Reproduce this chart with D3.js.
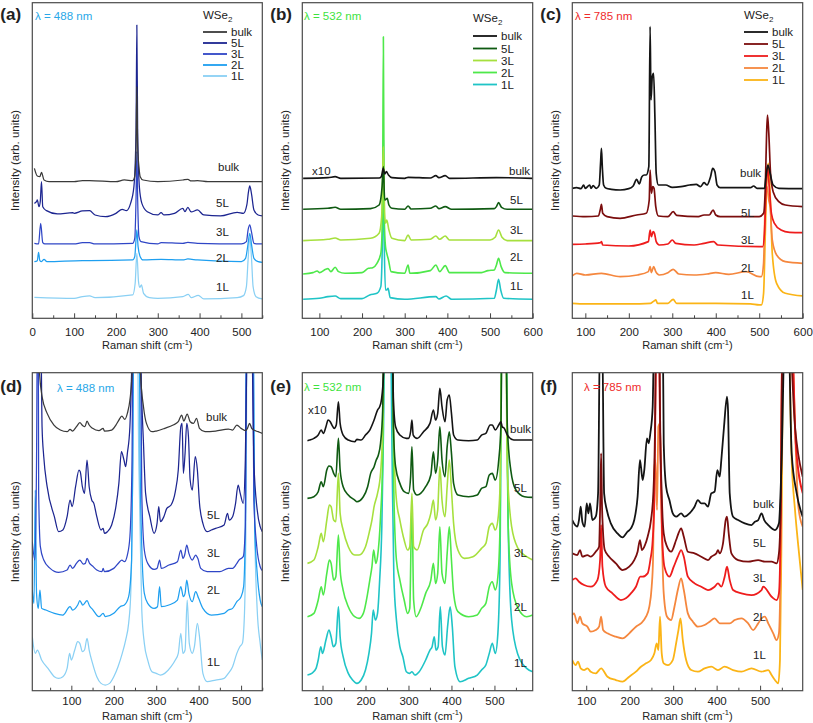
<!DOCTYPE html>
<html><head><meta charset="utf-8">
<script src="https://cdn.jsdelivr.net/npm/d3@7"></script>
<style>body{margin:0;background:#fff}svg{display:block}text{font-family:Arial,"Liberation Sans",sans-serif;fill:#222}</style>
</head><body><svg id="chart" width="813" height="723"></svg>
<script>
// ---------- data: [Raman shift (cm-1), intensity (arb. units, offset-stacked)] ----------
const layers = ["bulk", "5L", "3L", "2L", "1L"];

// 488 nm, full view
const a_bulk = [[5,495],[12,472],[18,470],[22,483],[28,460],[40,455],[100,455],[120,458],[137,458],[200,455],[220,460],[240,458],[245,470],[248,550],[250,740],[252,560],[255,500],[258,470],[265,460],[300,455],[360,460],[372,462],[380,457],[395,458],[420,455],[550,455]];
const a_5L = [[5,390],[10,395],[12,400],[16,380],[19,395],[22,455],[25,380],[34,368],[60,358],[97,362],[100,360],[120,367],[137,368],[150,355],[175,350],[200,360],[215,372],[225,368],[235,390],[243,440],[248,600],[250,925],[252,600],[256,440],[262,390],[275,365],[300,355],[308,362],[315,355],[340,360],[360,375],[365,365],[372,378],[380,364],[395,370],[410,355],[450,352],[490,363],[505,360],[513,385],[517,425],[520,442],[524,420],[530,370],[540,355],[550,352]];
const a_3L = [[5,270],[15,268],[20,330],[25,272],[30,268],[100,268],[120,272],[137,272],[150,268],[240,270],[245,285],[248,400],[250,545],[252,400],[255,290],[260,275],[300,268],[308,272],[360,270],[372,273],[395,270],[500,268],[512,275],[516,310],[520,325],[524,305],[530,270],[540,268],[550,268]];
const a_2L = [[5,215],[12,218],[15,243],[18,218],[22,215],[28,222],[35,215],[120,218],[137,218],[240,220],[245,230],[248,280],[250,310],[253,260],[258,230],[265,220],[308,222],[360,220],[372,223],[395,220],[500,215],[510,225],[515,260],[520,300],[525,260],[530,225],[540,215],[550,213]];
const a_1L = [[5,108],[100,105],[120,110],[137,112],[150,107],[240,115],[246,150],[250,240],[254,155],[257,138],[261,145],[266,120],[280,107],[300,105],[360,110],[373,117],[380,107],[397,114],[410,103],[490,107],[505,113],[512,140],[516,220],[520,288],[524,230],[528,140],[535,110],[550,103]];

// 532 nm, full view
const b_bulk = [[62,465],[120,467],[137,470],[150,465],[240,466],[245,470],[250,495],[253,478],[257,485],[262,475],[270,467],[300,465],[308,468],[360,466],[373,473],[380,467],[395,473],[405,465],[515,467],[600,465]];
const b_5L = [[62,372],[120,375],[137,378],[150,372],[220,374],[240,385],[247,440],[250,500],[253,400],[256,402],[259,405],[263,385],[270,375],[300,372],[308,382],[315,373],[360,375],[373,382],[380,374],[395,380],[410,372],[510,374],[515,380],[520,392],[527,378],[540,372],[600,372]];
const b_3L = [[62,278],[120,282],[137,286],[150,280],[220,285],[240,300],[246,350],[250,560],[253,360],[255,330],[258,340],[263,310],[270,285],[300,278],[308,295],[315,280],[360,282],[373,292],[382,282],[395,292],[405,280],[500,280],[512,288],[520,310],[528,288],[540,278],[600,278]];
const b_2L = [[62,178],[85,182],[95,187],[100,182],[115,192],[120,194],[127,185],[137,198],[145,185],[160,180],[200,182],[215,195],[225,197],[235,210],[244,240],[248,350],[250,890],[252,350],[255,260],[258,240],[262,220],[268,185],[300,180],[308,205],[312,180],[360,188],[373,205],[382,185],[395,203],[405,182],[480,182],[495,188],[510,190],[515,205],[520,225],[526,200],[535,182],[600,180]];
const b_1L = [[62,102],[100,105],[120,110],[137,112],[150,104],[200,104],[218,115],[235,120],[244,140],[248,300],[250,580],[252,280],[255,130],[258,130],[261,135],[266,107],[300,102],[373,110],[380,103],[397,112],[410,102],[510,105],[515,130],[520,162],[525,130],[532,105],[600,102]];

// 785 nm, full view
const c_bulk = [[70,435],[80,437],[90,434],[96,445],[100,435],[110,445],[113,435],[118,443],[125,435],[132,445],[135,510],[137,555],[139,500],[142,445],[148,435],[160,432],[180,430],[200,434],[210,442],[218,462],[224,448],[230,470],[236,475],[240,475],[246,500],[249,920],[251,700],[254,770],[257,780],[260,650],[263,480],[268,445],[285,445],[300,438],[320,440],[340,445],[355,447],[365,440],[373,452],[380,445],[388,470],[393,495],[398,485],[403,445],[410,437],[480,437],[487,442],[495,435],[512,435],[516,475],[520,505],[525,480],[532,445],[545,435],[600,434]];
const c_5L = [[70,352],[100,350],[130,352],[135,375],[137,387],[140,360],[150,350],[180,345],[218,355],[240,360],[247,400],[249,490],[252,420],[255,440],[258,435],[262,380],[268,352],[290,350],[302,365],[310,354],[360,350],[373,355],[385,355],[394,370],[400,355],[410,350],[500,350],[510,360],[514,440],[517,600],[519,655],[522,600],[526,480],[532,425],[545,395],[560,385],[600,380]];
const c_3L = [[70,267],[100,268],[135,272],[137,275],[140,265],[200,262],[245,275],[249,310],[252,290],[256,305],[259,300],[263,275],[270,265],[290,268],[300,280],[308,270],[350,265],[373,270],[395,275],[405,265],[500,260],[508,260],[512,300],[516,440],[519,500],[523,440],[528,360],[535,330],[550,310],[570,303],[600,302]];
const c_2L = [[70,172],[80,180],[100,175],[137,180],[180,170],[220,175],[245,185],[249,200],[252,182],[257,200],[262,185],[270,175],[290,182],[302,192],[315,178],[350,175],[380,178],[400,182],[430,177],[470,185],[500,170],[505,170],[510,210],[514,400],[518,440],[522,400],[525,380],[530,280],[540,235],[560,215],[600,210]];
const c_1L = [[70,90],[100,88],[200,88],[250,90],[258,97],[262,100],[266,90],[290,90],[302,102],[310,90],[400,90],[480,88],[500,85],[505,85],[510,120],[514,300],[518,480],[521,510],[525,420],[530,240],[540,150],[560,120],[600,112]];

// 488 nm, magnified
const d_bulk = [[8,1100],[20,1100],[25,960],[31,890],[43,840],[59,805],[74,790],[90,785],[97,792],[103,787],[112,800],[120,812],[127,803],[132,800],[137,817],[142,805],[150,795],[165,788],[175,795],[178,787],[195,790],[205,805],[212,820],[219,832],[226,822],[232,840],[238,880],[243,960],[246,1100],[260,1100],[263,960],[270,860],[277,810],[290,785],[300,787],[320,795],[340,805],[352,815],[360,835],[365,817],[373,838],[380,815],[388,810],[395,825],[402,795],[415,785],[440,787],[470,793],[480,790],[490,805],[500,795],[510,788],[515,795],[520,810],[525,795],[530,790],[540,785],[550,780]];
const d_5L = [[8,1100],[28,1100],[31,800],[35,710],[43,620],[60,530],[70,485],[80,490],[90,530],[97,580],[102,560],[110,620],[118,670],[121,665],[126,620],[131,600],[137,700],[142,620],[148,580],[153,570],[160,530],[170,490],[175,495],[178,480],[185,485],[195,505],[205,560],[212,630],[218,725],[224,700],[228,680],[232,720],[238,800],[242,960],[245,1100],[262,1100],[265,920],[270,750],[275,600],[285,530],[295,480],[302,510],[306,560],[310,515],[318,530],[325,555],[330,560],[335,565],[345,605],[352,670],[358,800],[361,810],[364,660],[368,720],[372,810],[376,770],[380,640],[385,610],[392,710],[397,670],[402,570],[410,510],[420,485],[430,490],[440,495],[460,505],[468,540],[472,520],[480,530],[487,570],[493,625],[498,600],[505,570],[510,700],[513,960],[515,1100],[525,1100],[527,960],[530,700],[538,550],[545,500],[550,485]];
const d_3L = [[8,455],[14,400],[18,700],[20,1100],[22,1100],[23,600],[27,440],[35,400],[50,375],[70,363],[90,370],[97,385],[103,375],[112,390],[120,400],[128,388],[133,390],[137,405],[143,390],[150,382],[160,370],[172,365],[175,375],[178,365],[200,375],[212,392],[219,400],[225,395],[232,415],[238,470],[243,700],[245,1100],[263,1100],[266,600],[272,430],[280,390],[295,372],[302,375],[308,400],[312,375],[330,385],[350,395],[358,430],[363,405],[367,415],[372,445],[377,420],[385,400],[393,415],[398,405],[405,375],[420,365],[450,365],[470,375],[480,375],[490,390],[495,400],[505,410],[510,500],[513,1100],[527,1100],[530,580],[537,440],[545,380],[550,368]];
const d_2L = [[8,310],[12,270],[15,610],[18,300],[22,255],[26,310],[30,255],[40,250],[60,240],[80,235],[97,260],[103,250],[115,265],[120,278],[127,265],[137,278],[143,262],[150,252],[165,230],[175,240],[180,230],[200,240],[215,260],[225,265],[235,290],[242,400],[245,700],[247,1100],[260,1100],[262,700],[266,440],[272,300],[280,270],[295,255],[303,260],[308,320],[312,260],[330,265],[350,280],[358,320],[364,290],[368,300],[372,340],[377,300],[385,275],[393,305],[400,285],[410,255],[430,235],[460,240],[470,250],[480,255],[490,275],[500,290],[506,320],[510,500],[512,1100],[529,1100],[532,500],[538,360],[545,280],[550,260]];
const d_1L = [[8,170],[15,120],[20,130],[30,100],[45,75],[60,50],[70,45],[80,50],[90,75],[96,120],[100,100],[108,130],[115,155],[120,150],[126,125],[131,130],[137,165],[142,130],[150,90],[160,50],[170,30],[180,25],[190,30],[200,50],[210,80],[220,120],[228,160],[235,210],[240,300],[244,600],[246,1100],[256,1100],[258,800],[262,500],[266,250],[272,150],[280,100],[290,65],[300,60],[310,55],[320,60],[335,80],[345,100],[352,120],[358,180],[363,120],[368,130],[373,280],[378,150],[385,120],[390,140],[397,210],[402,170],[410,60],[420,35],[440,40],[460,45],[470,60],[480,80],[490,120],[497,140],[503,150],[508,240],[512,600],[514,1100],[528,1100],[532,500],[538,250],[545,150],[550,100]];

// 532 nm, magnified
const e_bulk = [[65,758],[70,760],[80,765],[90,775],[97,790],[102,780],[108,800],[113,820],[118,815],[122,805],[127,795],[132,805],[137,875],[141,810],[148,775],[160,760],[175,755],[180,762],[190,760],[200,775],[210,790],[220,820],[228,850],[233,860],[237,880],[242,960],[245,1100],[262,1100],[265,880],[270,800],[280,775],[295,765],[300,765],[305,785],[308,820],[311,775],[320,765],[335,785],[350,810],[358,850],[363,820],[368,840],[373,915],[378,860],[385,815],[390,880],[395,895],[400,840],[405,775],[415,760],[440,758],[460,760],[470,775],[480,780],[490,805],[495,805],[502,790],[510,805],[515,815],[518,800],[523,795],[530,775],[545,760],[589,760]];
const e_5L = [[65,585],[80,590],[90,605],[97,635],[102,620],[110,670],[115,682],[120,680],[126,660],[131,650],[137,765],[141,670],[148,620],[160,595],[175,580],[180,575],[195,590],[205,620],[212,660],[220,680],[225,700],[230,715],[235,750],[240,850],[243,1100],[262,1100],[265,800],[270,680],[280,630],[290,605],[300,600],[305,650],[308,740],[312,610],[320,595],[340,620],[352,655],[358,725],[363,660],[368,700],[373,800],[378,700],[385,650],[390,740],[395,785],[400,720],[405,630],[415,595],[440,590],[460,595],[470,615],[480,620],[488,655],[495,660],[502,640],[510,700],[515,800],[518,1100],[526,1100],[530,800],[538,670],[550,610],[570,590],[589,588]];
const e_3L = [[65,390],[80,400],[90,440],[97,480],[102,455],[110,520],[116,565],[120,560],[126,520],[131,515],[137,660],[141,540],[148,490],[160,440],[175,415],[185,415],[200,440],[210,490],[215,520],[220,560],[228,600],[235,660],[240,800],[243,1100],[262,1100],[266,750],[272,580],[280,520],[290,460],[298,430],[303,440],[308,600],[312,440],[320,430],[335,490],[345,510],[352,540],[358,580],[363,520],[368,550],[373,680],[378,580],[385,530],[390,620],[395,700],[400,610],[405,510],[415,430],[430,405],[450,410],[470,435],[480,450],[488,500],[495,510],[502,490],[508,520],[513,620],[518,1100],[526,1100],[530,670],[540,500],[555,435],[575,410],[589,400]];
const e_2L = [[65,230],[80,240],[90,280],[97,320],[102,295],[110,360],[116,400],[120,390],[126,340],[131,350],[137,475],[141,370],[148,310],[160,260],[175,230],[185,225],[195,240],[205,300],[210,340],[215,380],[219,430],[224,390],[228,410],[235,530],[240,700],[244,1100],[262,1100],[266,600],[272,400],[280,340],[290,280],[298,240],[303,255],[308,580],[312,280],[318,230],[330,260],[340,300],[352,340],[358,390],[363,330],[368,360],[373,500],[378,360],[385,330],[390,420],[395,500],[400,400],[405,300],[415,245],[440,230],[460,235],[470,255],[480,270],[488,320],[495,335],[502,310],[508,350],[513,500],[517,1100],[527,1100],[532,500],[540,330],[555,255],[575,230],[589,235]];
const e_1L = [[65,55],[75,60],[85,75],[90,100],[96,140],[100,120],[108,160],[115,190],[120,170],[125,140],[131,150],[137,260],[141,170],[148,110],[160,60],[170,40],[180,30],[190,40],[200,70],[208,120],[214,180],[218,250],[223,220],[228,240],[233,340],[238,500],[242,800],[245,1100],[258,1100],[262,700],[266,350],[272,220],[280,140],[287,110],[295,65],[303,60],[308,65],[315,55],[325,65],[340,100],[350,130],[355,140],[360,170],[364,130],[369,140],[374,260],[379,140],[385,115],[391,200],[397,260],[402,200],[408,80],[420,35],[440,45],[460,55],[470,70],[480,85],[488,120],[495,150],[502,120],[508,180],[513,400],[517,1100],[527,1100],[532,500],[540,220],[555,115],[575,75],[589,65]];

// 785 nm, magnified
const f_bulk = [[68,520],[71.9,510],[79.6,500],[83.4,520],[87.3,560],[91.1,515],[96.5,500],[101.1,570],[105,540],[108.8,570],[114.2,520],[121.9,530],[127.3,600],[131.9,1100],[136.6,1100],[141.2,600],[147.4,550],[156.6,510],[172,480],[183.6,468],[195.1,485],[202.8,495],[210.5,520],[218.2,590],[223.6,700],[225.9,680],[229.8,640],[233.6,670],[239.8,765],[243.7,750],[247.5,780],[252.9,860],[256.8,1100],[276,1100],[278.3,750],[283.7,620],[291.4,580],[299.1,540],[306.8,530],[318.4,540],[326.1,530],[337.6,540],[349.2,560],[356.9,580],[364.6,570],[372.3,570],[380,560],[387.7,600],[395.4,605],[401.6,670],[407,650],[410.8,700],[417,800],[423.9,890],[426.2,850],[430.1,600],[437.8,530],[449.4,520],[464.8,510],[480.2,505],[487.9,515],[495.6,520],[503.3,540],[509.5,520],[518.7,505],[534.1,490],[543.3,510],[549.5,700],[557.2,1100],[564.9,1100],[572.6,720],[584.2,600],[598,530]];
const f_5L = [[68,420],[79.6,415],[85.7,430],[91.1,410],[102.7,415],[110.4,410],[121.9,425],[129.6,440],[131.9,550],[134.3,720],[136.6,550],[138.1,500],[142.7,430],[152.7,410],[168.2,390],[183.6,370],[199,380],[210.5,400],[218.2,425],[223.6,460],[228.2,430],[235.2,445],[241.3,470],[249,520],[254.4,600],[258.3,800],[260.6,1100],[268.3,1100],[269.8,850],[273.7,600],[278.3,480],[286,440],[295.3,425],[306.8,460],[312.2,480],[318.4,495],[324.5,470],[333.8,425],[349.2,420],[364.6,410],[380,400],[387.7,410],[399.3,420],[403.1,430],[407,420],[414.7,450],[420.9,520],[423.9,530],[427.8,480],[434,420],[449.4,400],[472.5,395],[495.6,400],[511,395],[526.4,395],[537.9,390],[543.3,420],[548,600],[551.8,1100],[566,1100],[580.3,800],[598,650]];
const f_3L = [[68,340],[75.7,345],[83.4,335],[95,325],[110.4,320],[125.8,340],[131.9,400],[134.3,505],[137.3,380],[145,320],[160.4,300],[179.7,280],[191.3,285],[202.8,300],[214.4,320],[224.4,350],[229.8,350],[241.3,360],[247.5,400],[252.9,460],[256.8,580],[259.1,850],[262.1,1100],[268.3,960],[270.6,720],[274.5,480],[279.9,380],[291.4,350],[301.4,380],[310.7,410],[318.4,430],[324.5,410],[333.8,350],[349.2,330],[364.6,320],[380,310],[395.4,320],[403.1,330],[410.8,320],[418.5,350],[423.9,380],[430.1,340],[437.8,310],[457.1,300],[480.2,295],[503.3,310],[507.1,320],[526.4,290],[537.9,280],[543.3,300],[547.2,500],[551.1,1100],[572.6,1100],[582,750],[598,600]];
const f_2L = [[68,235],[71.9,240],[79.6,210],[85.7,230],[91.1,210],[102.7,200],[110.4,185],[121.9,190],[129.6,200],[134.3,230],[138.9,190],[148.9,180],[168.2,170],[183.6,165],[199,180],[214.4,200],[225.9,210],[237.5,230],[245.2,260],[250.6,320],[253.7,400],[256.8,670],[259.1,700],[262.9,550],[266,800],[269.8,810],[273.7,500],[278.3,300],[286,230],[295.3,220],[303,260],[310.7,310],[318.4,345],[324.5,310],[333.8,240],[345.4,215],[356.9,200],[372.3,205],[383.9,215],[395.4,225],[407,210],[418.5,210],[430.1,210],[441.6,220],[457.1,225],[472.5,210],[484,190],[495.6,210],[503.3,225],[511,230],[518.7,210],[530.2,180],[537.9,160],[543.3,180],[547.2,400],[551.1,1100],[570,1100],[588,560],[598,500]];
const f_1L = [[68,100],[75.7,85],[81.1,95],[87.3,75],[95,70],[102.7,75],[110.4,65],[121.9,60],[134.3,75],[148.9,50],[168.2,40],[183.6,35],[199,50],[214.4,65],[225.9,80],[237.5,90],[249,100],[256.8,120],[262.1,150],[266,130],[269.8,230],[273.7,120],[278.3,90],[287.6,85],[299.1,100],[306.8,150],[312.2,190],[316.8,225],[322.2,160],[329.9,100],[341.5,70],[356.9,65],[372.3,75],[387.7,80],[403.1,70],[418.5,80],[437.8,70],[457.1,65],[480.2,75],[503.3,65],[518.7,70],[526.4,55],[534.1,40],[541.8,30],[545.7,100],[549.5,500],[553.4,1100],[564.9,1100],[572.6,700],[580.3,550],[588,440],[598,310]];

const majorTicks = [0, 100, 200, 300, 400, 500, 600];
const minorTicks = [50, 150, 250, 350, 450, 550];

// ---------- styling / layout (not data) ----------
const pal488 = ["#3a3a3a", "#1c2590", "#2f46c6", "#1e9ff0", "#8ad0f4"];
const pal532 = ["#141414", "#0f5a12", "#a6e03e", "#4ee84a", "#1fc4c6"];
const pal785 = ["#141414", "#7b0d0d", "#ee1c1c", "#f5873e", "#fbb416"];
const TOP = {y0: 2.7, y1: 318.3, yd: [45, 992], title: 349, pad: 9.5};
const BOT = {y0: 372.7, y1: 690.7, yd: [8, 962], title: 719.5, pad: 6};
const COLS = [[32.3, 262.3], [302.3, 532.7], [572.3, 802.7]];

const panels = [
  {tag: "(a)", col: 0, row: TOP, xd: [0, 550], data: [a_bulk, a_5L, a_3L, a_2L, a_1L], pal: pal488, sw: 1.25, lam: "λ = 488 nm", lamCol: "#29a8e8", lamX: 35, lamY: 20,
   legend: {x: 203, titleY: 19, rows: [32, 43, 54, 65, 76]}, labels: [[218,171],[216,207],[216,236],[216,262],[216,291]]},
  {tag: "(b)", col: 1, row: TOP, xd: [60, 600], data: [b_bulk, b_5L, b_3L, b_2L, b_1L], pal: pal532, sw: 1.6, lam: "λ = 532 nm", lamCol: "#3ee33e", lamX: 304, lamY: 20,
   legend: {x: 473, titleY: 22, rows: [36, 48.5, 60.5, 72.5, 84.5]}, labels: [[509,175],[510,204],[510,234],[510,261],[510,290]], x10: [312, 175]},
  {tag: "(c)", col: 2, row: TOP, xd: [70, 600], data: [c_bulk, c_5L, c_3L, c_2L, c_1L], pal: pal785, sw: 1.7, lam: "λ = 785 nm", lamCol: "#ef2b2b", lamX: 575, lamY: 20,
   legend: {x: 744, titleY: 19, rows: [32, 44, 56, 68, 80]}, labels: [[740,177],[741,217],[741,244],[741,272],[741,299]]},
  {tag: "(d)", col: 0, row: BOT, xd: [8, 550], data: [d_bulk, d_5L, d_3L, d_2L, d_1L], pal: pal488, sw: 1.25, lam: "λ = 488 nm", lamCol: "#29a8e8", lamX: 57, lamY: 392,
   labels: [[206,421],[207,519],[207,557],[207,594],[207,666]]},
  {tag: "(e)", col: 1, row: BOT, xd: [53, 589], data: [e_bulk, e_5L, e_3L, e_2L, e_1L], pal: pal532, sw: 1.6, lam: "λ = 532 nm", lamCol: "#3ee33e", lamX: 304, lamY: 391,
   labels: [[510,433],[514,492],[514,557],[514,611],[514,667]], x10: [308, 414]},
  {tag: "(f)", col: 2, row: BOT, xd: [68, 598], data: [f_bulk, f_5L, f_3L, f_2L, f_1L], pal: pal785, sw: 1.8, lam: "λ = 785 nm", lamCol: "#ef2b2b", lamX: 584, lamY: 391,
   labels: [[753,508],[753,547],[753,582],[753,621],[753,659]]}
];

const svg = d3.select("#chart");
const FONT = 11.5;

panels.forEach((p, pi) => {
  const [x0, x1] = COLS[p.col];
  const r = p.row;
  const x = d3.scaleLinear().domain(p.xd).range([x0, x1]);
  const y = d3.scaleLinear().domain(r.yd).range([r.y1, r.y0]);
  const g = svg.append("g");

  const clipId = "clip" + pi;
  svg.append("clipPath").attr("id", clipId).append("rect")
    .attr("x", x0).attr("y", r.y0).attr("width", x1 - x0).attr("height", r.y1 - r.y0);

  const line = d3.line().x(d => x(d[0])).y(d => y(d[1])).curve(d3.curveMonotoneX);
  const lines = g.append("g").attr("clip-path", `url(#${clipId})`);
  for (let i = layers.length - 1; i >= 0; i--) {
    lines.append("path").datum(p.data[i]).attr("d", line)
      .attr("fill", "none").attr("stroke", p.pal[i]).attr("stroke-width", p.sw)
      .attr("stroke-linejoin", "round");
  }

  // x axis: major + minor ticks pointing inward
  const maj = majorTicks.filter(t => t >= p.xd[0] && t <= p.xd[1] + 0.5);
  const mnr = minorTicks.filter(t => t >= p.xd[0] && t <= p.xd[1]);
  const axMaj = g.append("g").attr("transform", `translate(0,${r.y1})`)
    .call(d3.axisBottom(x).tickValues(maj).tickSizeInner(-5).tickSizeOuter(0).tickPadding(r.pad).tickFormat(d3.format("d")));
  axMaj.select(".domain").remove();
  axMaj.selectAll("line").attr("stroke", "#444").attr("stroke-width", 1);
  axMaj.selectAll("text").attr("font-size", 11.5).attr("fill", "#222").attr("font-family", 'Arial,"Liberation Sans",sans-serif');
  const axMin = g.append("g").attr("transform", `translate(0,${r.y1})`)
    .call(d3.axisBottom(x).tickValues(mnr).tickSizeInner(-3).tickSizeOuter(0).tickFormat(""));
  axMin.select(".domain").remove();
  axMin.selectAll("line").attr("stroke", "#444").attr("stroke-width", 1);

  // frame
  g.append("rect").attr("x", x0).attr("y", r.y0).attr("width", x1 - x0).attr("height", r.y1 - r.y0)
    .attr("fill", "none").attr("stroke", "#4a4a4a").attr("stroke-width", 1.2);

  // axis titles
  const xt = g.append("text").attr("x", (x0 + x1) / 2).attr("y", r.title).attr("text-anchor", "middle").attr("font-size", 11);
  xt.append("tspan").text("Raman shift (cm");
  xt.append("tspan").text("-1").attr("font-size", 7.5).attr("dy", -4.5);
  xt.append("tspan").text(")").attr("dy", 4.5);
  const ycx = x0 - 13.5, ycy = (r.y0 + r.y1) / 2;
  g.append("text").attr("transform", `translate(${ycx},${ycy}) rotate(-90)`).attr("text-anchor", "middle")
    .attr("font-size", FONT).text("Intensity (arb. units)");

  // panel tag
  g.append("text").attr("x", x0 - 32).attr("y", r.y0 + (r === TOP ? 17.5 : 19)).attr("font-size", 17).attr("font-weight", "bold")
    .attr("fill", "#111").text(p.tag);

  // wavelength
  g.append("text").attr("x", p.lamX).attr("y", p.lamY).attr("font-size", FONT).style("fill", p.lamCol).text(p.lam);

  // legend
  if (p.legend) {
    const L = p.legend;
    const t = g.append("text").attr("x", L.x).attr("y", L.titleY).attr("font-size", FONT);
    t.append("tspan").text("WSe");
    t.append("tspan").text("2").attr("font-size", 8).attr("dy", 3);
    layers.forEach((name, i) => {
      g.append("line").attr("x1", L.x).attr("x2", L.x + 24).attr("y1", L.rows[i]).attr("y2", L.rows[i])
        .attr("stroke", p.pal[i]).attr("stroke-width", 1.8);
      g.append("text").attr("x", L.x + 28).attr("y", L.rows[i] + 4).attr("font-size", FONT).text(name);
    });
  }

  // curve labels
  layers.forEach((name, i) => {
    g.append("text").attr("x", p.labels[i][0]).attr("y", p.labels[i][1]).attr("font-size", FONT).text(name);
  });
  if (p.x10) g.append("text").attr("x", p.x10[0]).attr("y", p.x10[1]).attr("font-size", FONT).text("x10");
});
</script></body></html>
